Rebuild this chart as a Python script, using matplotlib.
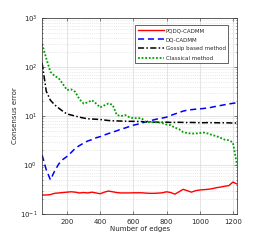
import matplotlib
matplotlib.use("Agg")
import matplotlib.pyplot as plt
from matplotlib.ticker import LogLocator, NullFormatter

edges = list(range(50, 1226, 25))

pqdq = [0.245, 0.245, 0.25, 0.265, 0.27, 0.275, 0.28, 0.285, 0.28, 0.27,
        0.275, 0.27, 0.28, 0.27, 0.26, 0.28, 0.295, 0.285, 0.275, 0.27,
        0.27, 0.27, 0.272, 0.272, 0.272, 0.268, 0.265, 0.265, 0.268, 0.272,
        0.285, 0.275, 0.255, 0.285, 0.32, 0.30, 0.28, 0.30, 0.31, 0.315,
        0.32, 0.33, 0.345, 0.355, 0.37, 0.38, 0.45, 0.41]

dq = [1.6, 0.8, 0.5, 0.75, 1.05, 1.3, 1.5, 1.8, 2.2, 2.5,
      2.8, 3.1, 3.3, 3.6, 3.8, 4.1, 4.4, 4.7, 5.0, 5.4,
      5.7, 6.1, 6.5, 6.8, 7.2, 7.6, 8.0, 8.4, 8.8, 9.1,
      9.5, 10.3, 11.0, 11.8, 12.6, 13.2, 13.5, 13.8, 14.0, 14.3,
      14.6, 15.2, 15.8, 16.4, 17.0, 17.6, 18.2, 18.6]

gossip = [120, 32, 21, 17, 14.5, 12.5, 11, 10.5, 10, 9.5,
          9.1, 8.8, 8.7, 8.6, 8.5, 8.3, 8.1, 8.0, 7.95, 7.9,
          7.85, 7.8, 7.8, 7.75, 7.7, 7.6, 7.6, 7.5, 7.5, 7.45,
          7.5, 7.4, 7.4, 7.45, 7.4, 7.35, 7.4, 7.35, 7.3, 7.3,
          7.35, 7.3, 7.3, 7.25, 7.3, 7.25, 7.2, 7.2]

classical = [295, 150, 80, 66, 59, 45, 34, 35, 31, 22,
             18, 19, 21, 18, 15, 16.5, 18, 17, 10.5, 10,
             10.5, 9.5, 9.0, 9.1, 9.0, 7.5, 7.5, 7.5, 7.4, 7.2,
             6.7, 6.5, 5.8, 5.4, 4.7, 4.5, 4.4, 4.4, 4.5, 4.6,
             4.4, 4.1, 3.9, 3.6, 3.3, 3.2, 2.9, 1.0]

xticks = [200, 400, 600, 800, 1000, 1200]
txt = '#262626'

fig = plt.figure(figsize=(2.7, 2.4), dpi=100)
ax = fig.add_axes([0.156, 0.108, 0.722, 0.817])

ax.plot(edges, pqdq, color='#ff0000', lw=1.0, label='PQDQ-CADMM')
ax.plot(edges, dq, color='#0000ff', lw=1.1, ls=(0, (4, 2.5)), label='DQ-CADMM')
ax.plot(edges, gossip, color='black', lw=1.1, ls=(0, (4, 1.5, 1, 1.5)), label='Gossip based method')
ax.plot(edges, classical, color='#00a000', lw=1.3, ls=(0, (1, 1)), label='Classical method')

ax.set_yscale('log')
ax.set_xlim(50, 1225)
ax.set_ylim(0.1, 1000)
ax.set_xticks(xticks)
ax.yaxis.set_major_locator(LogLocator(base=10, numticks=10))
ax.yaxis.set_minor_locator(LogLocator(base=10, subs=range(2, 10), numticks=10))
ax.yaxis.set_minor_formatter(NullFormatter())

ax.grid(True, which='major', color='#d9d9d9', lw=0.5)
ax.grid(True, which='minor', axis='y', color='#d9d9d9', lw=0.5, ls=':')
ax.tick_params(which='both', direction='in', top=True, right=True, labelsize=5,
               colors=txt, width=0.4, length=2)
ax.tick_params(which='minor', length=1)
for s in ax.spines.values():
    s.set_linewidth(0.5)
    s.set_color(txt)

ax.set_xlabel('Number of edges', fontsize=5, color=txt, labelpad=1)
ax.set_ylabel('Consensus error', fontsize=5, color=txt, labelpad=1)

leg = ax.legend(loc='upper right', fontsize=4, frameon=True, fancybox=False,
                edgecolor=txt, framealpha=1, borderpad=0.5, labelspacing=0.75,
                handlelength=4.8, handletextpad=0.2, borderaxespad=0.0,
                bbox_to_anchor=(0.955, 0.963))
leg.get_frame().set_linewidth(0.5)
for t in leg.get_texts():
    t.set_color(txt)

fig.savefig('out.png', dpi=100)
